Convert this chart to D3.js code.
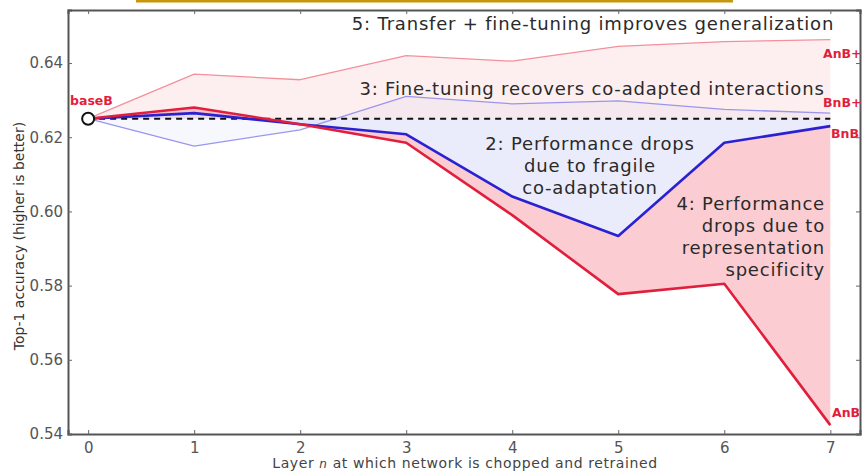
<!DOCTYPE html>
<html>
<head>
<meta charset="utf-8">
<script src="https://cdn.jsdelivr.net/npm/d3@7"></script>
<style>
  html, body { margin: 0; padding: 0; background: #fff; }
  svg { display: block; font-family: "DejaVu Sans", sans-serif; }
</style>
</head>
<body>
<svg id="chart" width="862" height="471"></svg>
<script>
// Layer at which the network is chopped and retrained
const layers = [0, 1, 2, 3, 4, 5, 6, 7];
// Top-1 accuracy of the base network (baseB)
const baseB = 0.625;
// Transfer / self-transfer results, frozen and fine-tuned (+)
const anb     = [0.625, 0.6280, 0.6235, 0.6185, 0.5990, 0.5777, 0.5805, 0.5424];
const bnb     = [0.625, 0.6265, 0.6235, 0.6208, 0.6040, 0.5934, 0.6185, 0.6230];
const anbPlus = [0.625, 0.6370, 0.6355, 0.6420, 0.6405, 0.6445, 0.6458, 0.6463];
const bnbPlus = [0.625, 0.6176, 0.6220, 0.6310, 0.6290, 0.6298, 0.6275, 0.6265];
const yTicks = [0.54, 0.56, 0.58, 0.60, 0.62, 0.64];
const xTicks = [0, 1, 2, 3, 4, 5, 6, 7];

const svg = d3.select("#chart");
const x = d3.scaleLinear().domain([-0.19, 7.28]).range([68, 860]);
const y = d3.scaleLinear().domain([0.54, 0.6543]).range([434, 10]);

const RED = "#e11f3c", BLUE = "#2a22d0";
const base = layers.map(() => baseB);

// Shaded bands between series
function band(lo, hi, color, op) {
  const a = d3.area().x((d, i) => x(layers[i])).y0((d, i) => y(lo[i])).y1((d, i) => y(hi[i]));
  svg.append("path").attr("d", a(layers)).attr("fill", color).attr("fill-opacity", op).attr("stroke", "none");
}
band(base, anbPlus, "#f06070", 0.10);
band(base, bnbPlus, "#6070f0", 0.05);
band(base, bnb, "#5060e0", 0.12);
band(bnb, anb, "#f04858", 0.27);

const line = d3.line().x((d, i) => x(layers[i])).y(d => y(d));
function series(vals, color, w, dash) {
  const p = svg.append("path").attr("d", line(vals)).attr("fill", "none")
    .attr("stroke", color).attr("stroke-width", w).attr("stroke-linejoin", "round");
  if (dash) p.attr("stroke-dasharray", dash);
}
series(anbPlus, "#f4909c", 1.3);
series(bnbPlus, "#9a96ee", 1.3);
series(base, "#111", 2, "6,5");
series(bnb, BLUE, 2.6);
series(anb, RED, 2.6);

svg.append("circle").attr("cx", x(0)).attr("cy", y(baseB)).attr("r", 6)
  .attr("fill", "#fff").attr("stroke", "#111").attr("stroke-width", 2);

// Axes frame
const xAxis = d3.axisBottom(x).tickValues(xTicks).tickSize(-4).tickPadding(8).tickFormat(d3.format("d"));
const yAxis = d3.axisLeft(y).tickValues(yTicks).tickSize(-4).tickPadding(5).tickFormat(d3.format(".2f"));
const gx = svg.append("g").attr("transform", "translate(0,434)").call(xAxis);
const gy = svg.append("g").attr("transform", "translate(68,0)").call(yAxis);
const gxt = svg.append("g").attr("transform", "translate(0,10)").call(d3.axisTop(x).tickValues(xTicks).tickSize(-4).tickFormat(""));
const gyr = svg.append("g").attr("transform", "translate(860,0)").call(d3.axisRight(y).tickValues(yTicks).tickSize(-4).tickFormat(""));
[gx, gy, gxt, gyr].forEach(g => {
  g.select(".domain").attr("stroke", "#555").attr("stroke-width", 2);
  g.selectAll(".tick line").attr("stroke", "#666").attr("stroke-width", 1);
  g.selectAll(".tick text").attr("fill", "#555").attr("font-size", 15).attr("font-family", "DejaVu Sans");
});

// Axis titles
const xt = svg.append("text").attr("x", 465).attr("y", 468).attr("text-anchor", "middle")
  .attr("font-size", 14).attr("letter-spacing", 0.6).attr("fill", "#444");
xt.append("tspan").text("Layer ");
xt.append("tspan").attr("font-style", "italic").attr("font-size", 12).text("n");
xt.append("tspan").text(" at which network is chopped and retrained");
svg.append("text").attr("transform", "translate(24,236) rotate(-90)").attr("text-anchor", "middle")
  .attr("font-size", 14).attr("fill", "#333").text("Top-1 accuracy (higher is better)");

// Series labels
function lab(t, px, py, anchor) {
  svg.append("text").attr("x", px).attr("y", py).attr("text-anchor", anchor || "start")
    .attr("font-size", 12.5).attr("font-weight", "bold").attr("fill", RED).text(t);
}
lab("baseB", 70, 105);
lab("AnB+", 823, 58);
lab("BnB+", 823, 107);
lab("BnB", 831, 138);
lab("AnB", 832, 417);

// Annotations
function note(lines, px, py, anchor, lh) {
  const t = svg.append("text").attr("text-anchor", anchor).attr("font-size", 18)
    .attr("letter-spacing", 0.8).attr("fill", "#2a2a2a");
  lines.forEach((s, i) => t.append("tspan").attr("x", px).attr("y", py + i * lh).text(s));
}
note(["5: Transfer + fine-tuning improves generalization"], 593, 30, "middle", 0);
note(["3: Fine-tuning recovers co-adapted interactions"], 592, 95, "middle", 0);
note(["2: Performance drops", "due to fragile", "co-adaptation"], 590, 150, "middle", 22);
note(["4: Performance", "drops due to", "representation", "specificity"], 825, 210, "end", 22);

// Header strip
svg.append("rect").attr("x", 136).attr("y", 0).attr("width", 597).attr("height", 2.5).attr("fill", "#c8960a");
</script>
</body>
</html>
